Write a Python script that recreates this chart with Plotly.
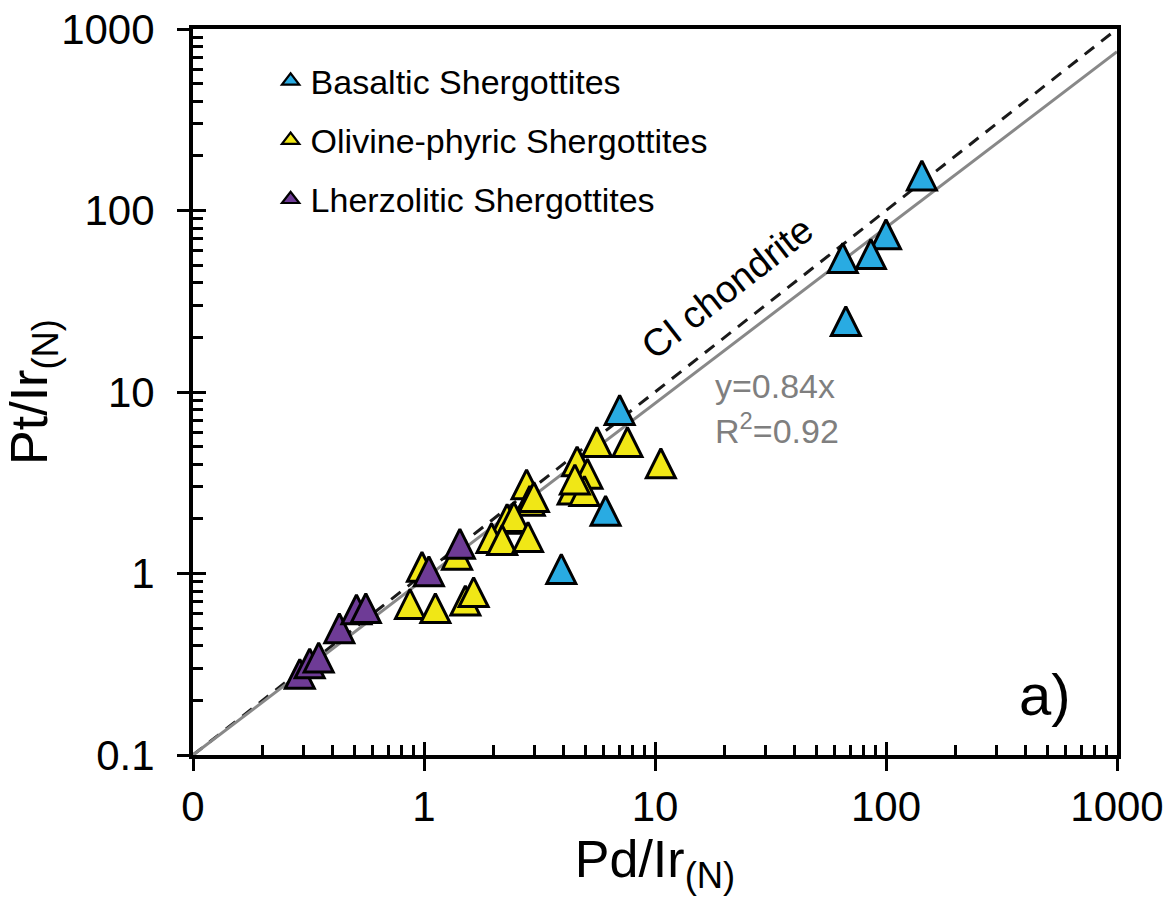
import plotly.graph_objects as go

# ---------------- data ----------------
basaltic_x = [143, 100, 86, 65, 67, 7.03, 6.11, 3.93]
basaltic_y = [156, 74, 57.6, 54.8, 24.6, 7.97, 2.22, 1.06]

olivine_x = [10.6, 7.6, 5.6, 4.6, 5.1, 4.4, 4.95, 4.5, 2.78, 2.87, 2.99, 2.29, 2.45,
             1.96, 2.18, 2.82, 1.39, 0.98, 0.87, 1.12, 1.51, 1.64]
olivine_y = [4.05, 5.3, 5.3, 4.15, 3.55, 2.9, 2.85, 3.3, 3.1, 2.52, 2.64, 2.0, 2.05,
             1.57, 1.53, 1.59, 1.27, 1.09, 0.68, 0.645, 0.71, 0.79]

lherz_x = [0.29, 0.32, 0.35, 0.43, 0.51, 0.56, 1.05, 1.43]
lherz_y = [0.28, 0.32, 0.345, 0.50, 0.635, 0.645, 1.03, 1.46]

chondrite_x = [0.1, 1000]
chondrite_y = [0.1, 1000]
fit_x = [0.1, 1000]
fit_y = [0.1, 750]

series_names = ["Basaltic Shergottites", "Olivine-phyric Shergottites",
                "Lherzolitic Shergottites"]

major_ticks = [0.1, 1, 10, 100, 1000]
x_tick_text = ["0", "1", "10", "100", "1000"]
y_tick_text = ["0.1", "1", "10", "100", "1000"]

# ---------------- styling ----------------
FONT = "Arial, 'Liberation Sans', Helvetica, sans-serif"
BLUE = "#29ABE2"
YELLOW = "#F0E716"
PURPLE = "#6E3B96"
MS = 29

minor_vals = [m * 10 ** e for e in range(-1, 3) for m in range(2, 10)]


def marker(color):
    # isosceles up-triangle centred on the point (arrow rotated, shifted by half its height)
    return dict(symbol="arrow-down", angle=180, standoff=MS / 2, size=MS,
                color=color, line=dict(color="black", width=3))


fig = go.Figure()
fig.add_trace(go.Scatter(x=chondrite_x, y=chondrite_y, mode="lines",
                         line=dict(color="#1a1a1a", width=3, dash="12px,9px"),
                         showlegend=False, hoverinfo="skip"))
fig.add_trace(go.Scatter(x=fit_x, y=fit_y, mode="lines",
                         line=dict(color="#888888", width=3),
                         showlegend=False, hoverinfo="skip"))

colors = [BLUE, YELLOW, PURPLE]
xs = [basaltic_x, olivine_x, lherz_x]
ys = [basaltic_y, olivine_y, lherz_y]
draw_order = [1, 0, 2]  # olivine below, basaltic, lherzolitic on top
for i in draw_order:
    fig.add_trace(go.Scatter(x=xs[i], y=ys[i], mode="markers", name=series_names[i],
                             marker=marker(colors[i]), showlegend=False,
                             legendgroup=series_names[i]))
# legend entries
for i in range(3):
    fig.add_trace(go.Scatter(x=[None], y=[None], mode="markers", name=series_names[i],
                             marker=dict(symbol="triangle-up", size=15, color=colors[i],
                                         line=dict(color="black", width=2.2)),
                             legendgroup=series_names[i], legendrank=i + 1))

# invisible trace to hold the overlay axes (inner half of major ticks)
fig.add_trace(go.Scatter(x=[1], y=[1], xaxis="x2", yaxis="y2", mode="markers",
                         marker=dict(opacity=0), showlegend=False, hoverinfo="skip"))

axis_common = dict(type="log", range=[-1, 3], tickmode="array", tickvals=major_ticks,
                   ticks="outside", ticklen=12, tickwidth=3, tickcolor="black",
                   showline=True, linewidth=4, linecolor="black", mirror=True,
                   showgrid=False, zeroline=False, automargin=False,
                   tickfont=dict(family=FONT, size=42, color="black"),
                   minor=dict(tickmode="array", tickvals=minor_vals, ticks="inside",
                              ticklen=10, tickwidth=2.5, tickcolor="black",
                              showgrid=False))

overlay_common = dict(type="log", range=[-1, 3], tickmode="array", tickvals=major_ticks,
                      ticks="inside", ticklen=13, tickwidth=3, tickcolor="black",
                      showticklabels=False, showline=False, showgrid=False,
                      zeroline=False, automargin=False)

fig.update_layout(
    width=1169, height=916,
    margin=dict(l=193, r=52, t=29, b=161, autoexpand=False),
    paper_bgcolor="white", plot_bgcolor="white",
    font=dict(family=FONT, color="black"),
    xaxis=dict(**axis_common, ticktext=x_tick_text, ticklabelstandoff=0,
               title=dict(text="Pd/Ir<sub>(N)</sub>", font=dict(family=FONT, size=52),
                          standoff=0)),
    yaxis=dict(**axis_common, ticktext=y_tick_text, ticklabelstandoff=14,
               title=dict(text="Pt/Ir<sub>(N)</sub>", font=dict(family=FONT, size=52),
                          standoff=2)),
    xaxis2=dict(**overlay_common, overlaying="x", anchor="y", side="bottom"),
    yaxis2=dict(**overlay_common, overlaying="y", anchor="x", side="left"),
    legend=dict(x=0.084, y=0.968, xanchor="left", yanchor="top",
                bgcolor="rgba(0,0,0,0)", borderwidth=0,
                font=dict(family=FONT, size=34, color="black"),
                itemsizing="trace", tracegroupgap=12, traceorder="grouped"),
    showlegend=True,
    annotations=[
        dict(text="CI chondrite", xref="paper", yref="paper", x=0.578, y=0.643,
             xanchor="center", yanchor="middle",
             showarrow=False, textangle=-38, font=dict(family=FONT, size=38, color="black")),
        dict(text="y=0.84x", xref="paper", yref="paper", x=0.563, y=0.508,
             xanchor="left", yanchor="middle", showarrow=False,
             font=dict(family=FONT, size=34, color="#7F7F7F")),
        dict(text="R<sup>2</sup>=0.92", xref="paper", yref="paper", x=0.563, y=0.450,
             xanchor="left", yanchor="middle", showarrow=False,
             font=dict(family=FONT, size=34, color="#7F7F7F")),
        dict(text="a)", xref="paper", yref="paper", x=0.922, y=0.083,
             xanchor="center", yanchor="middle",
             showarrow=False, font=dict(family=FONT, size=58, color="black")),
    ],
)

fig.write_html("out.html")
